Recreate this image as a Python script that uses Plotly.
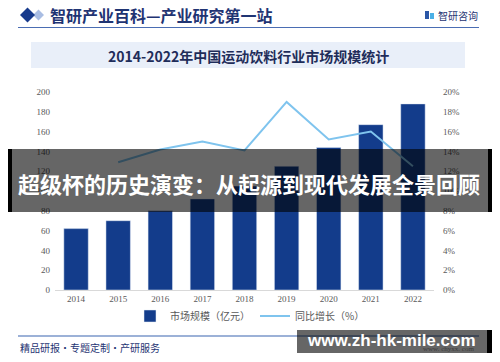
import plotly.graph_objects as go

years = ["2014", "2015", "2016", "2017", "2018", "2019", "2020", "2021", "2022"]
market_size = [62, 70, 80, 92, 105, 125, 144, 167, 188]
growth_years = ["2015", "2016", "2017", "2018", "2019", "2020", "2021", "2022"]
growth_rate = [0.129, 0.142, 0.150, 0.141, 0.190, 0.152, 0.160, 0.125]

W, H = 500, 362
ML, MR, MT, MB = 55, 66, 92, 72
PW, PH = W - ML - MR, H - MT - MB


def X(px):
    return (px - ML) / PW


def Y(py):
    return (H - MB - py) / PH


NAVY = "#1f3473"
tickfont = dict(family="Liberation Serif, DejaVu Serif, serif", size=9, color="#595959")

fig = go.Figure()
fig.add_trace(go.Bar(
    x=years, y=market_size, name="市场规模（亿元）",
    marker=dict(color="#133c8b"), width=0.58, yaxis="y",
))
fig.add_trace(go.Scatter(
    x=growth_years, y=growth_rate, name="同比增长（%）", mode="lines",
    line=dict(color="#7fc4ee", width=2), yaxis="y2",
))

shapes = []
annotations = []

# header
shapes.append(dict(type="path", xref="paper", yref="paper", layer="above",
                   path=f"M {X(33)} {Y(15)} L {X(38.5)} {Y(9.5)} L {X(44)} {Y(15)} L {X(38.5)} {Y(20.5)} Z",
                   fillcolor="#a9bde3", line=dict(width=0)))
shapes.append(dict(type="path", xref="paper", yref="paper", layer="above",
                   path=f"M {X(20)} {Y(15)} L {X(27.5)} {Y(7.5)} L {X(35)} {Y(15)} L {X(27.5)} {Y(22.5)} Z",
                   fillcolor="#173a8c", line=dict(width=0)))
annotations.append(dict(text="<b>智研产业百科—产业研究第一站</b>", xref="paper", yref="paper",
                        x=X(48), y=Y(15), xanchor="left", yanchor="middle", showarrow=False,
                        font=dict(family="Noto Sans CJK SC", size=16, color=NAVY)))
shapes.append(dict(type="line", xref="paper", yref="paper", layer="above",
                   x0=X(18), x1=X(479), y0=Y(27.5), y1=Y(27.5),
                   line=dict(color="#4a6db3", width=1.2)))
# logo
shapes.append(dict(type="rect", xref="paper", yref="paper", layer="above",
                   x0=X(425), x1=X(429), y0=Y(19), y1=Y(11), fillcolor="#2a56a6", line=dict(width=0)))
shapes.append(dict(type="rect", xref="paper", yref="paper", layer="above",
                   x0=X(430), x1=X(434), y0=Y(19), y1=Y(13), fillcolor="#4bb0e6", line=dict(width=0)))
annotations.append(dict(text="智研咨询", xref="paper", yref="paper",
                        x=X(436), y=Y(15), xanchor="left", yanchor="middle", showarrow=False,
                        font=dict(family="Noto Sans CJK SC", size=10, color=NAVY)))

# title band
shapes.append(dict(type="rect", xref="paper", yref="paper", layer="below",
                   x0=X(31), x1=X(465), y0=Y(68), y1=Y(42),
                   fillcolor="#e9eff9", line=dict(width=0)))
annotations.append(dict(text="<b>2014-2022年中国运动饮料行业市场规模统计</b>", xref="paper", yref="paper",
                        x=X(248), y=Y(56), xanchor="center", yanchor="middle", showarrow=False,
                        font=dict(family="Noto Sans CJK SC", size=14, color="#1f2d5a")))

# footer
shapes.append(dict(type="line", xref="paper", yref="paper", layer="below",
                   x0=X(18), x1=X(479), y0=Y(336), y1=Y(336),
                   line=dict(color="#3a64b0", width=1.2)))
annotations.append(dict(text="精品研报・专题定制・产研服务", xref="paper", yref="paper",
                        x=X(18), y=Y(347), xanchor="left", yanchor="middle", showarrow=False,
                        font=dict(family="Noto Sans CJK SC", size=10, color=NAVY)))

# overlay band
shapes.append(dict(type="rect", xref="paper", yref="paper", layer="above",
                   x0=X(8), x1=X(492), y0=Y(212), y1=Y(149),
                   fillcolor="rgba(0,0,0,0.6)", line=dict(width=0)))
shapes.append(dict(type="rect", xref="paper", yref="paper", layer="above",
                   x0=X(8), x1=X(12), y0=Y(212), y1=Y(149),
                   fillcolor="#000000", line=dict(width=0)))
shapes.append(dict(type="rect", xref="paper", yref="paper", layer="above",
                   x0=X(488), x1=X(492), y0=Y(212), y1=Y(149),
                   fillcolor="#000000", line=dict(width=0)))
annotations.append(dict(text="<b>超级杯的历史演变：从起源到现代发展全景回顾</b>", xref="paper", yref="paper",
                        x=X(249), y=Y(183), xanchor="center", yanchor="middle", showarrow=False,
                        font=dict(family="Noto Sans CJK SC", size=22, color="#ffffff")))

# bottom overlay
shapes.append(dict(type="rect", xref="paper", yref="paper", layer="above",
                   x0=X(297), x1=X(487), y0=Y(353), y1=Y(330),
                   fillcolor="rgba(0,0,0,0.6)", line=dict(width=0)))
shapes.append(dict(type="rect", xref="paper", yref="paper", layer="above",
                   x0=X(487), x1=X(492), y0=Y(353), y1=Y(330),
                   fillcolor="#000000", line=dict(width=0)))
annotations.append(dict(text="www. chyxx. com", xref="paper", yref="paper",
                        x=X(476), y=Y(349), xanchor="right", yanchor="middle", showarrow=False,
                        font=dict(family="Liberation Serif", size=7, color="#3c3c3c")))
annotations.append(dict(text="<b>www.zh-hk-mile.com</b>", xref="paper", yref="paper",
                        x=X(391), y=Y(340), xanchor="center", yanchor="middle", showarrow=False,
                        font=dict(family="Liberation Sans, Arial", size=17, color="#ffffff")))

fig.update_layout(
    width=W, height=H,
    margin=dict(l=ML, r=MR, t=MT, b=MB, pad=0),
    paper_bgcolor="#ffffff", plot_bgcolor="#ffffff",
    showlegend=True,
    hovermode=False,
    legend=dict(orientation="h", x=X(250), xanchor="center", y=Y(316), yanchor="middle",
                font=dict(family="Noto Sans CJK SC", size=10, color="#595959"),
                itemwidth=30, tracegroupgap=0, bgcolor="rgba(0,0,0,0)"),
    xaxis=dict(type="category", showgrid=False, showline=True, linecolor="#d9d9d9", linewidth=1,
               ticks="", tickfont=tickfont, zeroline=False),
    yaxis=dict(range=[0, 200], dtick=20, showgrid=False, showline=False, zeroline=False,
               ticks="", tickfont=tickfont, ticklabelstandoff=4),
    yaxis2=dict(range=[0, 0.2], dtick=0.02, tickformat=".0%", overlaying="y", side="right",
                showgrid=False, showline=False, zeroline=False, ticks="", tickfont=tickfont,
                ticklabelstandoff=8),
    shapes=shapes,
    annotations=annotations,
)

fig.write_html("out.html", config={"displayModeBar": False},
               post_script="document.body.style.margin='0';document.body.style.overflow='hidden';")
